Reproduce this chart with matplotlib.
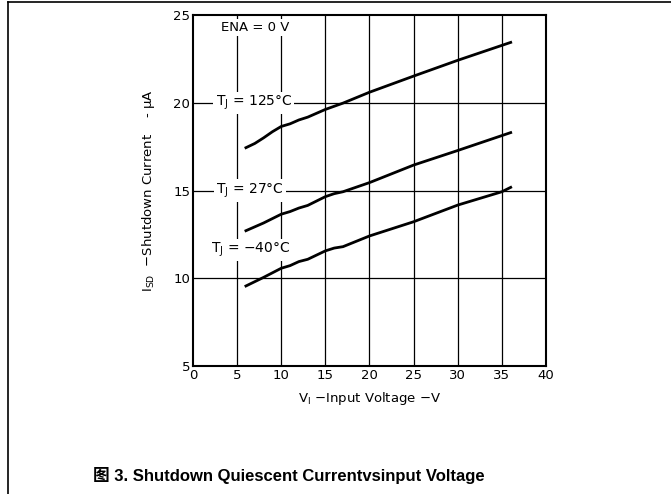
import matplotlib

matplotlib.use("Agg")
import matplotlib.pyplot as plt
from matplotlib.lines import Line2D

# data
v_125 = [6, 7, 8, 9, 10, 11, 12, 13, 15, 17, 20, 25, 30, 36]
i_125 = [17.44, 17.68, 18.0, 18.35, 18.65, 18.8, 19.02, 19.18, 19.62, 19.98, 20.6, 21.52, 22.42, 23.44]
v_27 = [6, 8, 10, 11, 12, 13, 14, 15, 16, 17, 20, 25, 30, 36]
i_27 = [12.71, 13.15, 13.65, 13.8, 14.0, 14.15, 14.4, 14.65, 14.82, 14.93, 15.45, 16.45, 17.28, 18.3]
v_m40 = [6, 8, 10, 11, 12, 13, 14, 15, 16, 17, 20, 25, 30, 35, 36]
i_m40 = [9.56, 10.05, 10.57, 10.72, 10.95, 11.08, 11.32, 11.56, 11.72, 11.8, 12.41, 13.22, 14.17, 14.93, 15.18]

xticks = [0, 5, 10, 15, 20, 25, 30, 35, 40]
yticks = [5, 10, 15, 20, 25]

fig = plt.figure(figsize=(6.71, 4.94), dpi=100)
ax = fig.add_axes([0.2876, 0.2591, 0.5261, 0.7105])

for x in xticks[1:-1]:
    ax.axvline(x, color="black", lw=0.9, zorder=1)
for y in yticks[1:-1]:
    ax.axhline(y, color="black", lw=0.9, zorder=1)

for v, i in [(v_125, i_125), (v_27, i_27), (v_m40, i_m40)]:
    ax.plot(v, i, color="black", lw=2.0, zorder=3)

box = dict(facecolor="white", edgecolor="none", pad=1.5)
ax.text(7.0, 24.3, "ENA = 0 V", ha="center", va="center", fontsize=9.5, bbox=box, zorder=4)
ax.text(6.9, 20, "T$_\\mathregular{J}$ = 125°C", ha="center", va="center", fontsize=10, bbox=box, zorder=4)
ax.text(6.5, 15, "T$_\\mathregular{J}$ = 27°C", ha="center", va="center", fontsize=10, bbox=box, zorder=4)
ax.text(6.5, 11.6, "T$_\\mathregular{J}$ = −40°C", ha="center", va="center", fontsize=10, bbox=box, zorder=4)

ax.set_xlim(0, 40)
ax.set_ylim(5, 25)
ax.set_xticks(xticks)
ax.set_yticks(yticks)
ax.tick_params(length=0, labelsize=9.5, pad=2)
for s in ax.spines.values():
    s.set_linewidth(1.5)

ax.set_xlabel("V$_\\mathregular{I}$ −Input Voltage −V", fontsize=9.5, labelpad=6)
ax.set_ylabel("I$_\\mathregular{SD}$  −Shutdown Current    - μA", fontsize=9.5, labelpad=12)

fig.text(0.431, 0.038, "图 3. Shutdown Quiescent Currentvsinput Voltage",
         ha="center", va="center", fontsize=12, fontweight="bold",
         family=["Liberation Sans", "Noto Sans CJK SC"])

# page frame: top and left rules
fig.add_artist(Line2D([0.012, 1.0], [0.996, 0.996], color="black", lw=1.2))
fig.add_artist(Line2D([0.012, 0.012], [0.0, 0.996], color="black", lw=1.2))

fig.savefig("out.png", dpi=100)
